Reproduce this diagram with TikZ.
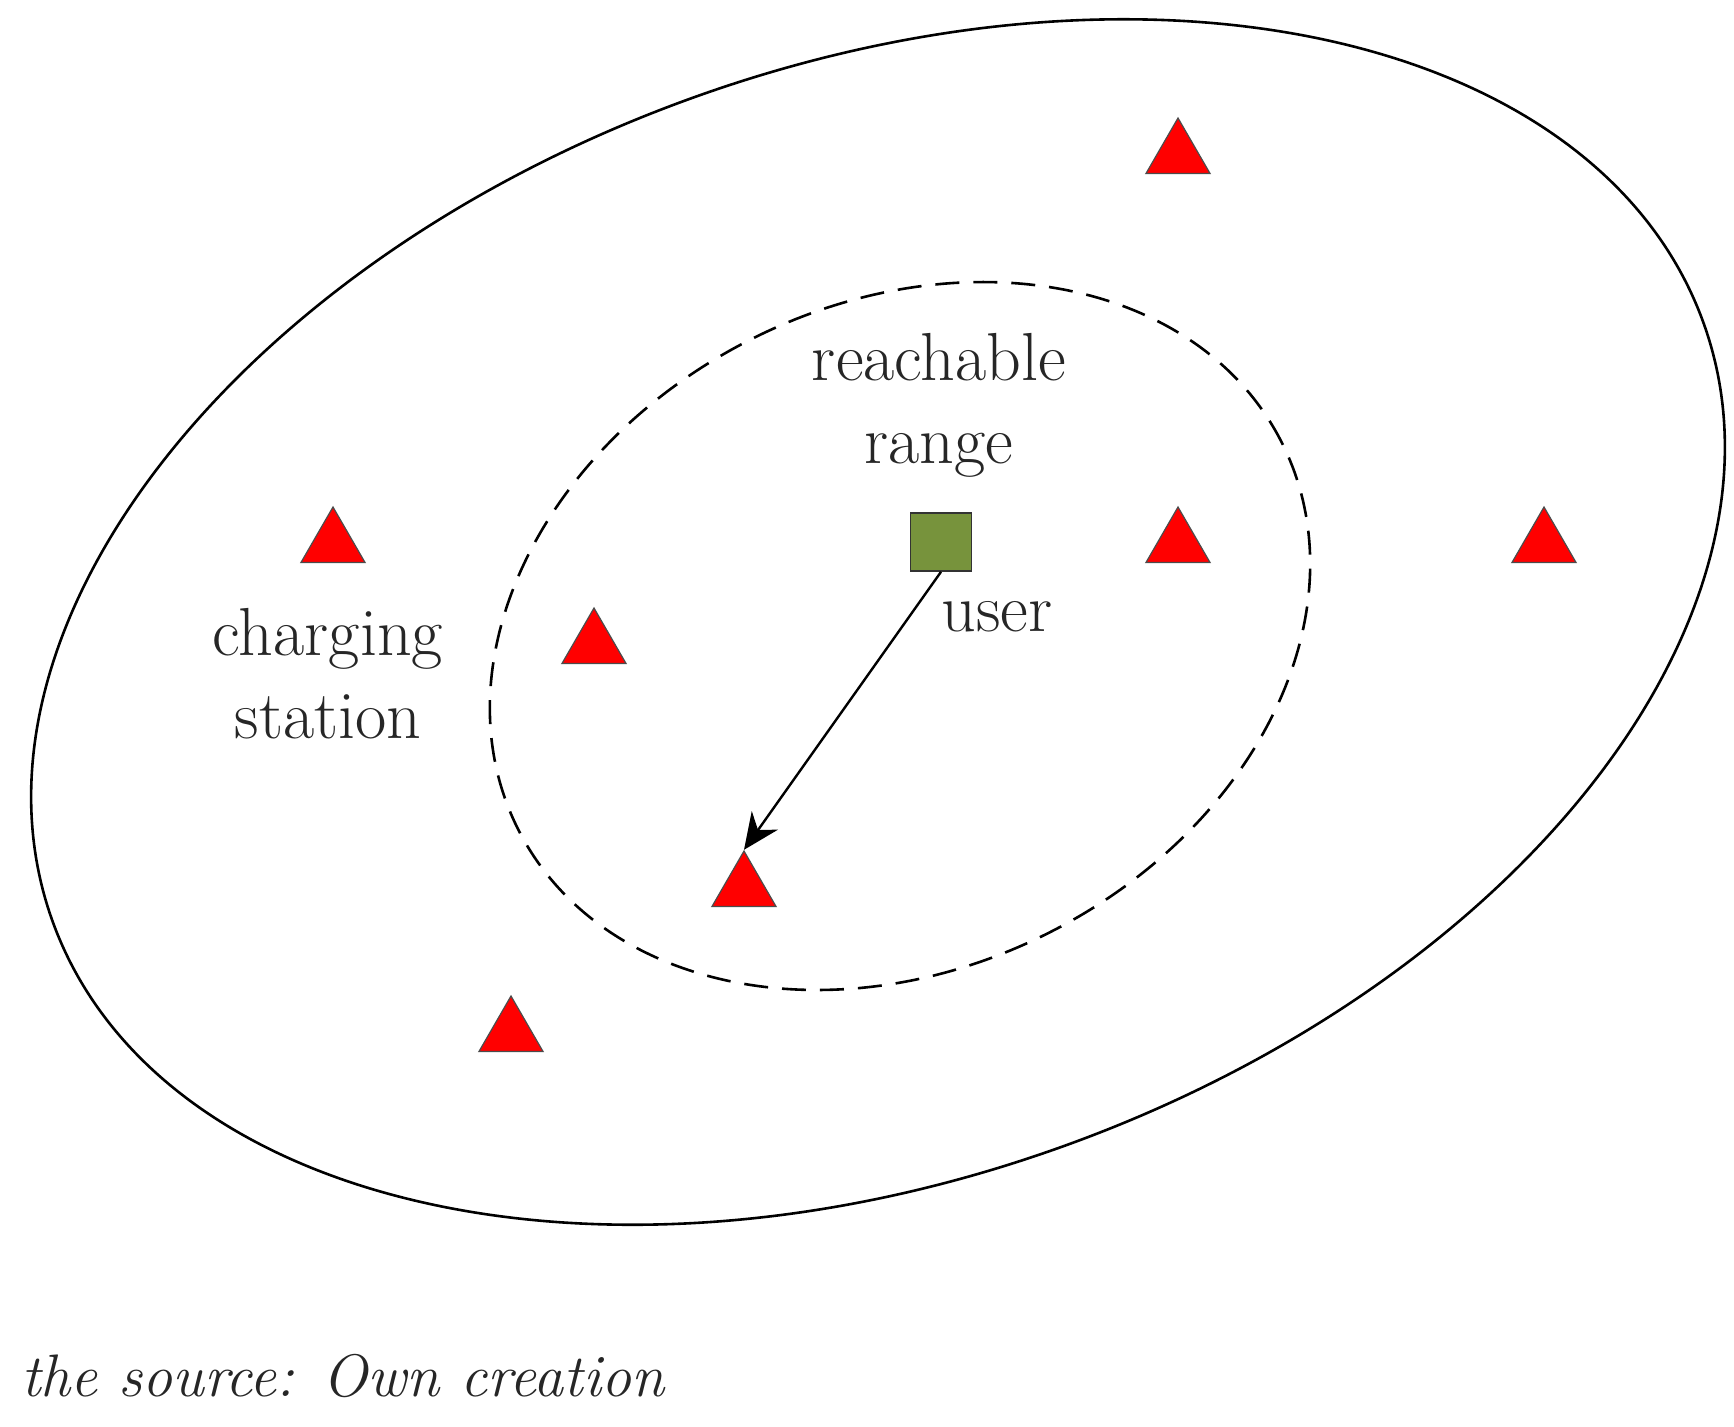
\documentclass[tikz,border=0pt]{standalone}
\usetikzlibrary{shapes.geometric,arrows.meta}
\begin{document}
\begin{tikzpicture}[x=0.5pt,y=-0.5pt,
  cs/.style={regular polygon,regular polygon sides=3,inner sep=0pt,minimum size=37pt,fill=red,draw=black!70,line width=0.6pt},
  lbl/.style={font=\fontsize{34}{41.5}\selectfont,align=center,text=black!85}]
\useasboundingbox (0,0) rectangle (1734,1426);
\draw[line width=1.3pt] (878,622) ellipse [x radius=439pt,y radius=278pt,rotate=20];
\draw[line width=1.3pt,dash pattern=on 12pt off 7pt] (900,636) ellipse [x radius=214pt,y radius=166pt,rotate=27];
\node[cs] (t1) at (1178,155) {};
\node[cs] (t2) at (333,544) {};
\node[cs] (t3) at (594,645) {};
\node[cs] (t4) at (1178,544) {};
\node[cs] (t5) at (1544,544) {};
\node[cs] (t6) at (744,888) {};
\node[cs] (t7) at (511,1033) {};
\node[draw=black!80,fill={rgb,255:red,119;green,147;blue,60},minimum width=30.5pt,minimum height=29pt,inner sep=0pt,line width=0.8pt] (u) at (941,542) {};
\draw[line width=1.2pt,-{Stealth[length=18pt,width=16pt]}] (u.south) -- (t6.north);
\node[lbl] (rr) at (939,405) {reachable\\range};
\node[lbl] (cl) at (328,674) {charging\\station};
\node[lbl] (ul) at (997,617) {user};
\node[font=\fontsize{30}{36}\selectfont\itshape,anchor=west,text=black!85] (src) at (14,1376) {the source: Own creation};
\end{tikzpicture}
\end{document}
